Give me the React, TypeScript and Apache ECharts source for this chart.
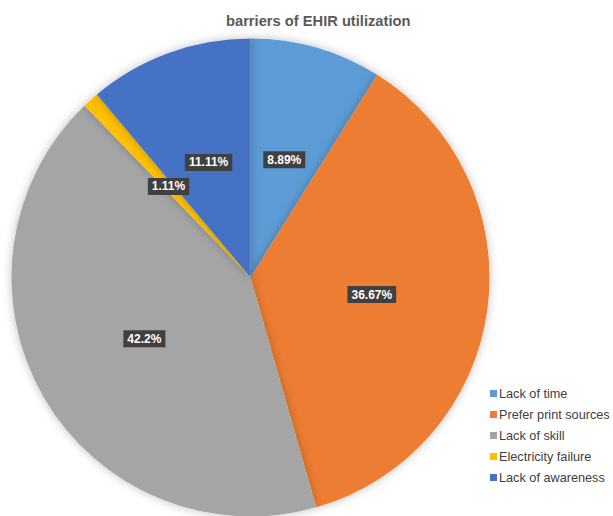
import React, { useEffect, useRef } from "react";
import * as echarts from "echarts";

const categories = [
  "Lack of time",
  "Prefer print sources",
  "Lack of skill",
  "Electricity failure",
  "Lack of awareness",
];
const values = [8.89, 36.67, 42.2, 1.11, 11.11];
const colors = ["#5B9BD5", "#ED7D31", "#A5A5A5", "#FFC000", "#4472C4"];
const titleText = "barriers of EHIR utilization";

export default function App() {
  const ref = useRef<HTMLDivElement>(null);
  useEffect(() => {
    if (!ref.current) return;
    const chart = echarts.init(ref.current, undefined, { renderer: "svg" });
    chart.setOption({
      animation: false,
      backgroundColor: "#ffffff",
      title: {
        text: titleText,
        left: 226,
        top: 13,
        padding: 0,
        textStyle: {
          fontFamily: "Liberation Sans, Arial, sans-serif",
          fontSize: 14.7,
          fontWeight: "bold",
          color: "#595959",
        },
      },
      legend: {
        orient: "vertical",
        left: 490,
        top: 387,
        padding: 0,
        itemWidth: 7,
        itemHeight: 7,
        itemGap: 8,
        icon: "rect",
        textStyle: {
          fontFamily: "Liberation Sans, Arial, sans-serif",
          fontSize: 12.7,
          color: "#404040",
          padding: [0, 0, 0, -3],
        },
        data: categories,
      },
      series: [
        {
          type: "pie",
          center: [250.5, 277.5],
          radius: 239,
          startAngle: 90,
          clockwise: true,
          avoidLabelOverlap: false,
          itemStyle: {
            borderWidth: 0,
            shadowBlur: 10,
            shadowColor: "rgba(0,0,0,0.25)",
          },
          label: {
            show: true,
            position: "inside",
            formatter: (p: any) => `${p.value}%`,
            fontFamily: "Liberation Sans, Arial, sans-serif",
            fontSize: 12,
            fontWeight: "bold",
            color: "#ffffff",
            backgroundColor: "#404040",
            padding: [3, 4, 2, 4],
          },
          labelLine: { show: false },
          emphasis: { disabled: true },
          data: categories.map((name, i) => ({
            name,
            value: values[i],
            itemStyle: { color: colors[i] },
          })),
        },
      ],
    });
    return () => chart.dispose();
  }, []);
  return (
    <div
      ref={ref}
      style={{ position: "fixed", left: 0, top: 0, width: 613, height: 516 }}
    />
  );
}
